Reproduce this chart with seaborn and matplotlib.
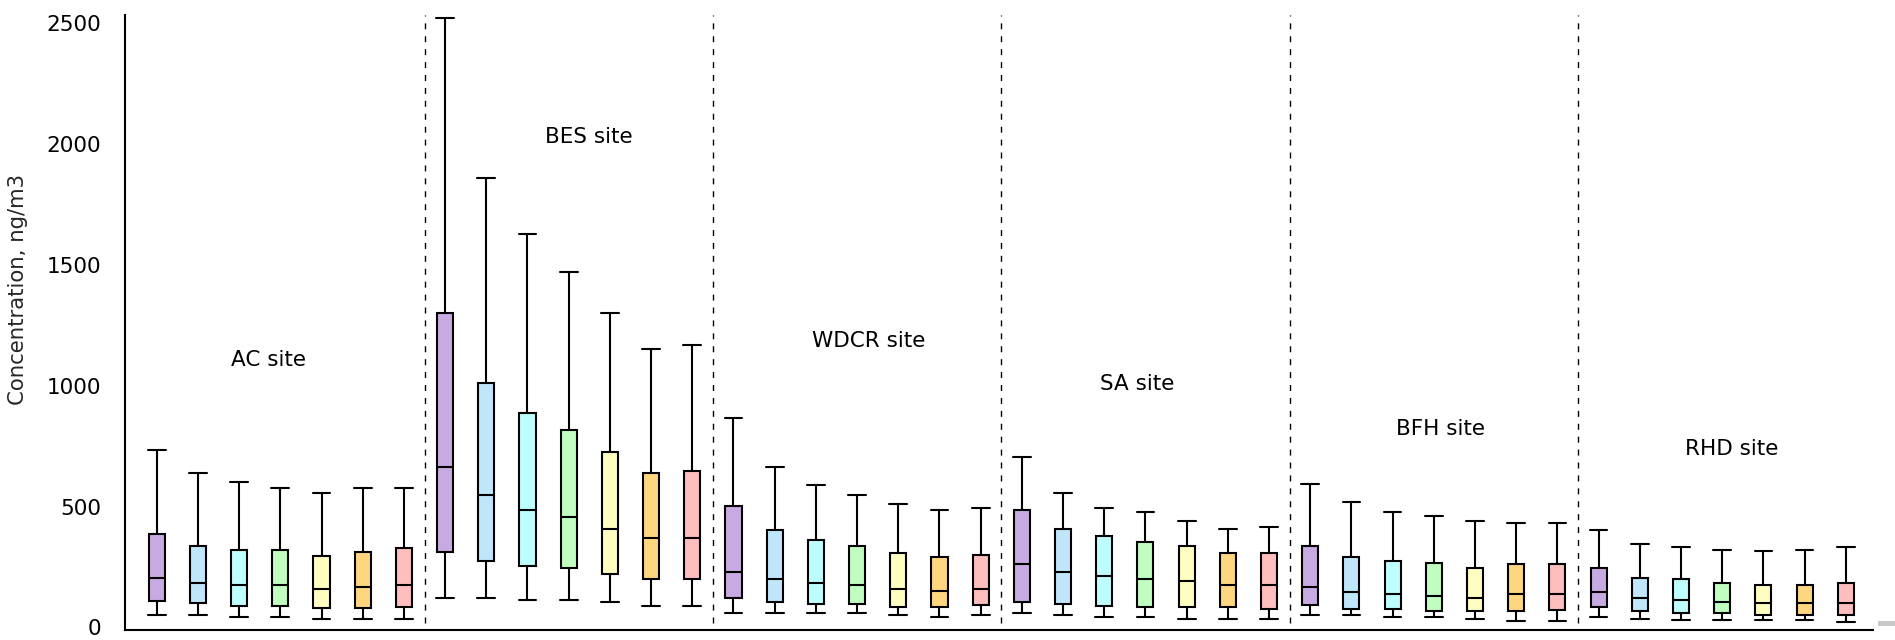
import matplotlib
matplotlib.use("Agg")
import matplotlib.pyplot as plt
import matplotlib.patches as mpatches
import numpy as np
import pandas as pd
import seaborn as sns

# Sampling sites, each with seven boxes (one per colour)
sites = ["AC site", "BES site", "WDCR site", "SA site", "BFH site", "RHD site"]
n_per_site = 7

# Box statistics (ng/m3), site by site
whisker_low = [52, 52, 42, 42, 34, 34, 34,
               120, 120, 112, 112, 105, 88, 88,
               60, 60, 60, 60, 52, 44, 52,
               59, 51, 44, 44, 36, 36, 36,
               52, 52, 44, 44, 36, 27, 27,
               43, 34, 29, 29, 29, 29, 21]
q1 = [108, 100, 90, 90, 81, 81, 86,
      313, 275, 252, 245, 219, 198, 198,
      123, 105, 98, 98, 83, 83, 91,
      105, 96, 89, 83, 83, 83, 74,
      91, 74, 74, 67, 67, 66, 72,
      83, 66, 58, 58, 51, 51, 51]
median = [206, 184, 174, 174, 159, 166, 174,
          664, 548, 485, 455, 407, 369, 369,
          230, 200, 183, 175, 160, 151, 160,
          261, 229, 214, 199, 190, 175, 175,
          168, 145, 137, 130, 121, 138, 138,
          145, 121, 113, 106, 99, 99, 99]
q3 = [385, 337, 319, 319, 296, 313, 328,
      1300, 1013, 887, 818, 725, 639, 648,
      501, 401, 363, 338, 307, 291, 299,
      485, 408, 377, 354, 338, 307, 307,
      338, 292, 276, 267, 245, 261, 261,
      244, 205, 199, 183, 176, 176, 183]
whisker_high = [733, 640, 600, 576, 554, 576, 576,
                2520, 1859, 1626, 1472, 1300, 1153, 1168,
                867, 665, 588, 549, 510, 485, 494,
                705, 556, 494, 479, 440, 408, 415,
                594, 517, 479, 462, 440, 432, 432,
                401, 346, 332, 321, 316, 321, 332]

# Site caption placement (box index, concentration)
label_x = [2.71, 10.48, 17.27, 23.8, 31.17, 38.22]
label_y = [1106, 2031, 1186, 1008, 819, 739]

box_colors = ["#C8AAE2", "#C0E6FC", "#BEFEFE", "#C0FEC0",
              "#FFFEC0", "#FFD680", "#FFBEBE"]

# Long-form table: five points per box reproduce its quartiles and whisker ends
n_boxes = len(sites) * n_per_site
rows = []
for i in range(n_boxes):
    for v in (whisker_low[i], q1[i], median[i], q3[i], whisker_high[i]):
        rows.append({"box": i, "value": v})
df = pd.DataFrame(rows)
palette = {i: box_colors[i % n_per_site] for i in range(n_boxes)}

sns.set_style("white")
plt.rcParams["font.family"] = ["DejaVu Sans"]

W, H = 1895, 640
fig = plt.figure(figsize=(W / 100, H / 100), dpi=100)
ax = fig.add_axes([125 / W, 10 / H, (1873 - 125) / W, (630 - 15) / H])

sns.boxplot(
    data=df, x="box", y="value", hue="box", palette=palette,
    order=list(range(n_boxes)), hue_order=list(range(n_boxes)),
    dodge=False, legend=False, saturation=1, width=0.39,
    whis=(0, 100), linewidth=1.5, linecolor="black",
    capwidths=0.43, showfliers=False, ax=ax,
)

# Dashed separators between sites
for k in range(1, len(sites)):
    ax.plot([k * n_per_site - 0.5] * 2, [20, 2534], color="black",
            lw=1.0, linestyle=(0, (4.3, 5.0)), zorder=0)

for name, xi, yi in zip(sites, label_x, label_y):
    ax.text(xi, yi, name, ha="center", va="center", fontsize=15.5,
            color="black")

ax.set_xlim(-0.77, 41.66)
ax.set_ylim(-11, 2534)
ax.set_yticks([0, 500, 1000, 1500, 2000, 2500])
ax.set_xticks(range(n_boxes))
ax.set_xticklabels([])
ax.set_xlabel("")
ax.set_ylabel("Concentration, ng/m3", fontsize=15.3)
ax.yaxis.set_label_coords(-0.0555, 0.553)

ax.tick_params(axis="y", direction="out", length=10.8, width=1.4,
               pad=6.5, labelsize=15.5, color="black", labelcolor="black")
ax.tick_params(axis="x", direction="out", length=10.8, width=1.4,
               color="black")
for side in ("top", "right"):
    ax.spines[side].set_visible(False)
for side in ("left", "bottom"):
    ax.spines[side].set_color("black")
    ax.spines[side].set_linewidth(1.5)

# Small grey mark at the lower right edge
fig.patches.append(mpatches.Rectangle((1878 / W, (640 - 626) / H), 17 / W, 5 / H,
                                      transform=fig.transFigure,
                                      facecolor="#C8C8C8", edgecolor="none"))

fig.savefig("out.png", dpi=100)
